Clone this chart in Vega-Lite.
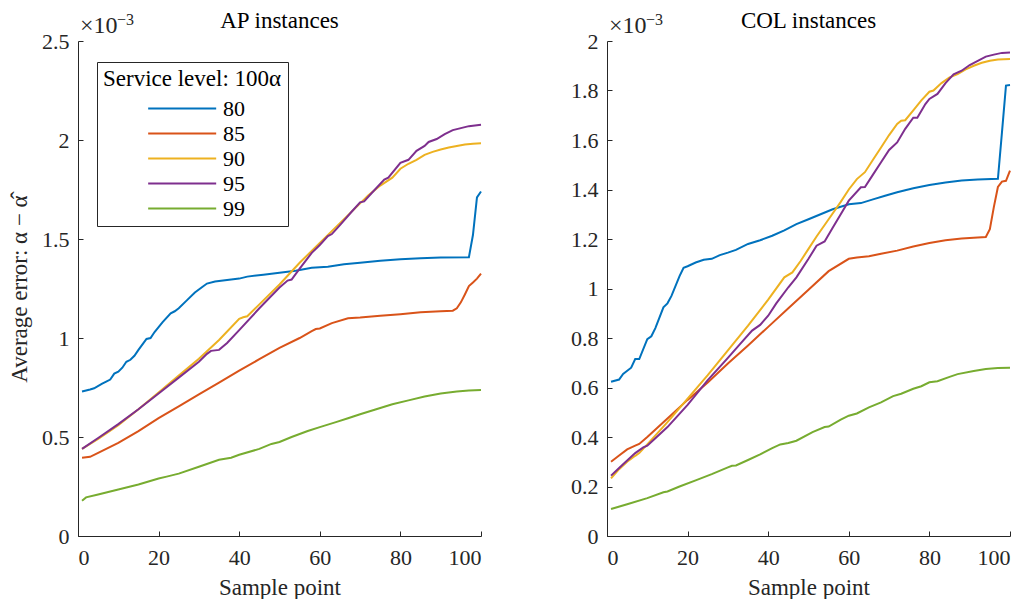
{
  "$schema": "https://vega.github.io/schema/vega-lite/v6.json",
  "padding": {"left": 8, "top": 10, "right": 0, "bottom": 0},
  "background": "white",
  "config": {
    "font": "Liberation Serif",
    "view": {"stroke": null},
    "axis": {
      "domainColor": "#262626", "tickColor": "#262626", "labelColor": "#262626", "titleColor": "#262626",
      "labelFont": "Liberation Serif", "titleFont": "Liberation Serif",
      "labelFontSize": 22, "titleFontSize": 23, "titleFontWeight": "normal",
      "grid": false, "tickSize": -5, "domainWidth": 1, "tickWidth": 1
    },
    "title": {"font": "Liberation Serif", "fontSize": 23, "fontWeight": "normal", "color": "#000000", "frame": "group", "offset": -21},
    "legend": {
      "titleFont": "Liberation Serif", "labelFont": "Liberation Serif",
      "titleFontSize": 23, "labelFontSize": 22, "titleFontWeight": "normal",
      "titleColor": "#000000", "labelColor": "#000000"
    }
  },
  "datasets": {
    "ap": [
      {"s":"80","x":1,"y":0.73},{"s":"80","x":3,"y":0.74},{"s":"80","x":4,"y":0.746},{"s":"80","x":6,"y":0.77},{"s":"80","x":7,"y":0.78},{"s":"80","x":8,"y":0.79},{"s":"80","x":9,"y":0.82},{"s":"80","x":10,"y":0.83},{"s":"80","x":11,"y":0.85},{"s":"80","x":12,"y":0.88},{"s":"80","x":13,"y":0.89},{"s":"80","x":14,"y":0.91},{"s":"80","x":15,"y":0.94},{"s":"80","x":17,"y":0.995},{"s":"80","x":18,"y":1.0},{"s":"80","x":19,"y":1.03},{"s":"80","x":21,"y":1.08},{"s":"80","x":23,"y":1.125},{"s":"80","x":24,"y":1.135},{"s":"80","x":25,"y":1.15},{"s":"80","x":27,"y":1.19},{"s":"80","x":29,"y":1.23},{"s":"80","x":31,"y":1.26},{"s":"80","x":32,"y":1.275},{"s":"80","x":34,"y":1.285},{"s":"80","x":36,"y":1.29},{"s":"80","x":40,"y":1.3},{"s":"80","x":42,"y":1.31},{"s":"80","x":46,"y":1.32},{"s":"80","x":50,"y":1.33},{"s":"80","x":54,"y":1.34},{"s":"80","x":58,"y":1.355},{"s":"80","x":62,"y":1.36},{"s":"80","x":66,"y":1.372},{"s":"80","x":70,"y":1.38},{"s":"80","x":75,"y":1.39},{"s":"80","x":80,"y":1.398},{"s":"80","x":85,"y":1.403},{"s":"80","x":90,"y":1.406},{"s":"80","x":97,"y":1.408},{"s":"80","x":98,"y":1.52},{"s":"80","x":99,"y":1.71},{"s":"80","x":100,"y":1.74},
      {"s":"85","x":1,"y":0.395},{"s":"85","x":3,"y":0.4},{"s":"85","x":5,"y":0.42},{"s":"85","x":8,"y":0.45},{"s":"85","x":10,"y":0.47},{"s":"85","x":15,"y":0.53},{"s":"85","x":20,"y":0.595},{"s":"85","x":25,"y":0.655},{"s":"85","x":30,"y":0.715},{"s":"85","x":35,"y":0.775},{"s":"85","x":40,"y":0.835},{"s":"85","x":45,"y":0.893},{"s":"85","x":50,"y":0.95},{"s":"85","x":55,"y":1.0},{"s":"85","x":58,"y":1.035},{"s":"85","x":59,"y":1.045},{"s":"85","x":60,"y":1.048},{"s":"85","x":63,"y":1.075},{"s":"85","x":67,"y":1.1},{"s":"85","x":70,"y":1.103},{"s":"85","x":75,"y":1.112},{"s":"85","x":80,"y":1.12},{"s":"85","x":85,"y":1.13},{"s":"85","x":90,"y":1.135},{"s":"85","x":93,"y":1.138},{"s":"85","x":94,"y":1.15},{"s":"85","x":95,"y":1.18},{"s":"85","x":96,"y":1.22},{"s":"85","x":97,"y":1.262},{"s":"85","x":98,"y":1.28},{"s":"85","x":99,"y":1.3},{"s":"85","x":100,"y":1.325},
      {"s":"90","x":1,"y":0.44},{"s":"90","x":5,"y":0.49},{"s":"90","x":10,"y":0.56},{"s":"90","x":15,"y":0.64},{"s":"90","x":20,"y":0.725},{"s":"90","x":25,"y":0.81},{"s":"90","x":30,"y":0.895},{"s":"90","x":35,"y":0.99},{"s":"90","x":40,"y":1.097},{"s":"90","x":41,"y":1.105},{"s":"90","x":42,"y":1.11},{"s":"90","x":45,"y":1.17},{"s":"90","x":50,"y":1.27},{"s":"90","x":55,"y":1.38},{"s":"90","x":60,"y":1.48},{"s":"90","x":65,"y":1.58},{"s":"90","x":70,"y":1.68},{"s":"90","x":72,"y":1.72},{"s":"90","x":75,"y":1.77},{"s":"90","x":78,"y":1.81},{"s":"90","x":80,"y":1.855},{"s":"90","x":82,"y":1.88},{"s":"90","x":84,"y":1.9},{"s":"90","x":86,"y":1.925},{"s":"90","x":88,"y":1.94},{"s":"90","x":90,"y":1.952},{"s":"90","x":92,"y":1.962},{"s":"90","x":94,"y":1.97},{"s":"90","x":96,"y":1.977},{"s":"90","x":98,"y":1.981},{"s":"90","x":100,"y":1.983},
      {"s":"95","x":1,"y":0.44},{"s":"95","x":5,"y":0.495},{"s":"95","x":10,"y":0.565},{"s":"95","x":15,"y":0.64},{"s":"95","x":20,"y":0.72},{"s":"95","x":25,"y":0.8},{"s":"95","x":30,"y":0.88},{"s":"95","x":32,"y":0.92},{"s":"95","x":33,"y":0.935},{"s":"95","x":35,"y":0.94},{"s":"95","x":37,"y":0.975},{"s":"95","x":40,"y":1.04},{"s":"95","x":45,"y":1.15},{"s":"95","x":50,"y":1.255},{"s":"95","x":52,"y":1.29},{"s":"95","x":53,"y":1.295},{"s":"95","x":55,"y":1.35},{"s":"95","x":58,"y":1.43},{"s":"95","x":60,"y":1.47},{"s":"95","x":62,"y":1.515},{"s":"95","x":63,"y":1.525},{"s":"95","x":65,"y":1.57},{"s":"95","x":68,"y":1.64},{"s":"95","x":70,"y":1.685},{"s":"95","x":71,"y":1.69},{"s":"95","x":73,"y":1.735},{"s":"95","x":76,"y":1.8},{"s":"95","x":77,"y":1.81},{"s":"95","x":80,"y":1.885},{"s":"95","x":82,"y":1.9},{"s":"95","x":84,"y":1.945},{"s":"95","x":86,"y":1.97},{"s":"95","x":87,"y":1.99},{"s":"95","x":89,"y":2.005},{"s":"95","x":91,"y":2.03},{"s":"95","x":93,"y":2.05},{"s":"95","x":95,"y":2.06},{"s":"95","x":97,"y":2.07},{"s":"95","x":100,"y":2.077},
      {"s":"99","x":1,"y":0.178},{"s":"99","x":2,"y":0.195},{"s":"99","x":5,"y":0.21},{"s":"99","x":10,"y":0.235},{"s":"99","x":15,"y":0.26},{"s":"99","x":20,"y":0.29},{"s":"99","x":22,"y":0.3},{"s":"99","x":25,"y":0.315},{"s":"99","x":30,"y":0.35},{"s":"99","x":35,"y":0.385},{"s":"99","x":38,"y":0.395},{"s":"99","x":40,"y":0.41},{"s":"99","x":45,"y":0.44},{"s":"99","x":48,"y":0.465},{"s":"99","x":50,"y":0.475},{"s":"99","x":53,"y":0.5},{"s":"99","x":57,"y":0.53},{"s":"99","x":60,"y":0.55},{"s":"99","x":64,"y":0.575},{"s":"99","x":67,"y":0.595},{"s":"99","x":70,"y":0.615},{"s":"99","x":74,"y":0.64},{"s":"99","x":78,"y":0.665},{"s":"99","x":82,"y":0.685},{"s":"99","x":86,"y":0.705},{"s":"99","x":90,"y":0.72},{"s":"99","x":94,"y":0.73},{"s":"99","x":97,"y":0.735},{"s":"99","x":100,"y":0.737}
    ],
    "col": [
      {"s":"80","x":1,"y":0.623},{"s":"80","x":3,"y":0.632},{"s":"80","x":4,"y":0.655},{"s":"80","x":6,"y":0.68},{"s":"80","x":7,"y":0.715},{"s":"80","x":8,"y":0.715},{"s":"80","x":10,"y":0.795},{"s":"80","x":11,"y":0.807},{"s":"80","x":12,"y":0.84},{"s":"80","x":14,"y":0.924},{"s":"80","x":15,"y":0.94},{"s":"80","x":16,"y":0.97},{"s":"80","x":18,"y":1.05},{"s":"80","x":19,"y":1.084},{"s":"80","x":20,"y":1.09},{"s":"80","x":22,"y":1.105},{"s":"80","x":24,"y":1.116},{"s":"80","x":26,"y":1.12},{"s":"80","x":28,"y":1.135},{"s":"80","x":30,"y":1.145},{"s":"80","x":32,"y":1.156},{"s":"80","x":35,"y":1.18},{"s":"80","x":38,"y":1.195},{"s":"80","x":41,"y":1.213},{"s":"80","x":44,"y":1.235},{"s":"80","x":47,"y":1.26},{"s":"80","x":50,"y":1.28},{"s":"80","x":53,"y":1.3},{"s":"80","x":56,"y":1.32},{"s":"80","x":60,"y":1.34},{"s":"80","x":63,"y":1.345},{"s":"80","x":66,"y":1.36},{"s":"80","x":69,"y":1.375},{"s":"80","x":72,"y":1.389},{"s":"80","x":76,"y":1.405},{"s":"80","x":80,"y":1.418},{"s":"80","x":84,"y":1.428},{"s":"80","x":88,"y":1.436},{"s":"80","x":92,"y":1.44},{"s":"80","x":97,"y":1.443},{"s":"80","x":98,"y":1.63},{"s":"80","x":99,"y":1.82},{"s":"80","x":100,"y":1.822},
      {"s":"85","x":1,"y":0.3},{"s":"85","x":3,"y":0.325},{"s":"85","x":5,"y":0.35},{"s":"85","x":7,"y":0.365},{"s":"85","x":8,"y":0.372},{"s":"85","x":10,"y":0.4},{"s":"85","x":15,"y":0.475},{"s":"85","x":20,"y":0.55},{"s":"85","x":25,"y":0.62},{"s":"85","x":30,"y":0.697},{"s":"85","x":35,"y":0.77},{"s":"85","x":40,"y":0.845},{"s":"85","x":45,"y":0.92},{"s":"85","x":50,"y":0.995},{"s":"85","x":55,"y":1.07},{"s":"85","x":60,"y":1.12},{"s":"85","x":62,"y":1.125},{"s":"85","x":65,"y":1.13},{"s":"85","x":68,"y":1.14},{"s":"85","x":72,"y":1.153},{"s":"85","x":76,"y":1.17},{"s":"85","x":80,"y":1.184},{"s":"85","x":84,"y":1.195},{"s":"85","x":88,"y":1.202},{"s":"85","x":92,"y":1.206},{"s":"85","x":94,"y":1.208},{"s":"85","x":95,"y":1.24},{"s":"85","x":96,"y":1.33},{"s":"85","x":97,"y":1.41},{"s":"85","x":98,"y":1.432},{"s":"85","x":99,"y":1.435},{"s":"85","x":100,"y":1.476},
      {"s":"90","x":1,"y":0.233},{"s":"90","x":3,"y":0.27},{"s":"90","x":5,"y":0.3},{"s":"90","x":7,"y":0.324},{"s":"90","x":8,"y":0.335},{"s":"90","x":10,"y":0.37},{"s":"90","x":15,"y":0.46},{"s":"90","x":20,"y":0.555},{"s":"90","x":25,"y":0.65},{"s":"90","x":30,"y":0.75},{"s":"90","x":35,"y":0.85},{"s":"90","x":40,"y":0.955},{"s":"90","x":44,"y":1.045},{"s":"90","x":46,"y":1.065},{"s":"90","x":48,"y":1.11},{"s":"90","x":50,"y":1.16},{"s":"90","x":52,"y":1.21},{"s":"90","x":55,"y":1.28},{"s":"90","x":58,"y":1.35},{"s":"90","x":60,"y":1.4},{"s":"90","x":62,"y":1.442},{"s":"90","x":64,"y":1.47},{"s":"90","x":66,"y":1.52},{"s":"90","x":68,"y":1.57},{"s":"90","x":70,"y":1.62},{"s":"90","x":72,"y":1.665},{"s":"90","x":73,"y":1.678},{"s":"90","x":74,"y":1.68},{"s":"90","x":76,"y":1.72},{"s":"90","x":78,"y":1.76},{"s":"90","x":80,"y":1.795},{"s":"90","x":81,"y":1.8},{"s":"90","x":83,"y":1.83},{"s":"90","x":85,"y":1.853},{"s":"90","x":87,"y":1.866},{"s":"90","x":89,"y":1.885},{"s":"90","x":91,"y":1.9},{"s":"90","x":93,"y":1.912},{"s":"90","x":95,"y":1.92},{"s":"90","x":97,"y":1.925},{"s":"90","x":100,"y":1.927},
      {"s":"95","x":1,"y":0.244},{"s":"95","x":3,"y":0.275},{"s":"95","x":5,"y":0.305},{"s":"95","x":7,"y":0.335},{"s":"95","x":9,"y":0.358},{"s":"95","x":10,"y":0.365},{"s":"95","x":12,"y":0.395},{"s":"95","x":15,"y":0.44},{"s":"95","x":20,"y":0.53},{"s":"95","x":25,"y":0.63},{"s":"95","x":30,"y":0.72},{"s":"95","x":33,"y":0.775},{"s":"95","x":36,"y":0.83},{"s":"95","x":38,"y":0.853},{"s":"95","x":40,"y":0.89},{"s":"95","x":42,"y":0.94},{"s":"95","x":45,"y":1.005},{"s":"95","x":47,"y":1.045},{"s":"95","x":50,"y":1.12},{"s":"95","x":52,"y":1.173},{"s":"95","x":54,"y":1.19},{"s":"95","x":56,"y":1.245},{"s":"95","x":58,"y":1.3},{"s":"95","x":60,"y":1.355},{"s":"95","x":63,"y":1.409},{"s":"95","x":64,"y":1.41},{"s":"95","x":66,"y":1.46},{"s":"95","x":68,"y":1.51},{"s":"95","x":70,"y":1.56},{"s":"95","x":72,"y":1.59},{"s":"95","x":74,"y":1.645},{"s":"95","x":76,"y":1.69},{"s":"95","x":77,"y":1.69},{"s":"95","x":79,"y":1.745},{"s":"95","x":80,"y":1.766},{"s":"95","x":82,"y":1.786},{"s":"95","x":84,"y":1.83},{"s":"95","x":86,"y":1.865},{"s":"95","x":88,"y":1.88},{"s":"95","x":90,"y":1.903},{"s":"95","x":92,"y":1.92},{"s":"95","x":94,"y":1.937},{"s":"95","x":96,"y":1.945},{"s":"95","x":98,"y":1.952},{"s":"95","x":100,"y":1.954},
      {"s":"99","x":1,"y":0.109},{"s":"99","x":5,"y":0.128},{"s":"99","x":10,"y":0.153},{"s":"99","x":14,"y":0.177},{"s":"99","x":15,"y":0.18},{"s":"99","x":18,"y":0.2},{"s":"99","x":22,"y":0.225},{"s":"99","x":26,"y":0.25},{"s":"99","x":30,"y":0.277},{"s":"99","x":31,"y":0.284},{"s":"99","x":32,"y":0.285},{"s":"99","x":35,"y":0.307},{"s":"99","x":38,"y":0.33},{"s":"99","x":41,"y":0.355},{"s":"99","x":43,"y":0.37},{"s":"99","x":45,"y":0.376},{"s":"99","x":47,"y":0.385},{"s":"99","x":51,"y":0.42},{"s":"99","x":54,"y":0.44},{"s":"99","x":55,"y":0.442},{"s":"99","x":58,"y":0.47},{"s":"99","x":60,"y":0.486},{"s":"99","x":62,"y":0.495},{"s":"99","x":65,"y":0.52},{"s":"99","x":68,"y":0.54},{"s":"99","x":71,"y":0.565},{"s":"99","x":73,"y":0.575},{"s":"99","x":76,"y":0.595},{"s":"99","x":78,"y":0.605},{"s":"99","x":80,"y":0.621},{"s":"99","x":82,"y":0.625},{"s":"99","x":85,"y":0.643},{"s":"99","x":87,"y":0.654},{"s":"99","x":91,"y":0.667},{"s":"99","x":94,"y":0.675},{"s":"99","x":97,"y":0.679},{"s":"99","x":100,"y":0.68}
    ]
  },
  "spacing": 85,
  "resolve": {"scale": {"color": "independent"}, "legend": {"color": "independent"}},
  "hconcat": [
    {
      "width": 403, "height": 495,
      "title": {"text": "AP instances"},
      "layer": [
        {
          "data": {"name": "ap"},
          "mark": {"type": "line", "strokeWidth": 2},
          "encoding": {
            "x": {"field": "x", "type": "quantitative", "scale": {"domain": [0, 100], "nice": false},
                  "axis": {"values": [0, 20, 40, 60, 80, 100], "title": "Sample point", "labelPadding": 16, "titlePadding": 8}},
            "y": {"field": "y", "type": "quantitative", "scale": {"domain": [0, 2.5], "nice": false},
                  "axis": {"values": [0, 0.5, 1, 1.5, 2, 2.5], "format": "~g", "title": "Average error: α − α̂", "labelPadding": 14, "titlePadding": 10}},
            "color": {"field": "s", "type": "nominal",
                      "scale": {"domain": ["80", "85", "90", "95", "99"], "range": ["#0072BD", "#D95319", "#EDB120", "#7E2F8E", "#77AC30"]},
                      "legend": {"title": "Service level: 100α", "orient": "none", "legendX": 19, "legendY": 21,
                                 "symbolType": "M -1 0 H 5", "symbolStrokeWidth": 2, "symbolSize": 514, "symbolOffset": 44,
                                 "labelOffset": 51, "strokeColor": "#262626", "fillColor": "white", "padding": 6,
                                 "rowPadding": 1, "titlePadding": 5}}
          }
        },
        {
          "data": {"values": [{"t": "×10"}]},
          "mark": {"type": "text", "align": "left", "baseline": "alphabetic", "dx": 2, "dy": -8, "fontSize": 24, "color": "#262626"},
          "encoding": {"x": {"datum": 0, "type": "quantitative"}, "y": {"datum": 2.5, "type": "quantitative"}, "text": {"field": "t"}}
        },
        {
          "data": {"values": [{"t": "−3"}]},
          "mark": {"type": "text", "align": "left", "baseline": "alphabetic", "dx": 39, "dy": -16, "fontSize": 16, "color": "#262626"},
          "encoding": {"x": {"datum": 0, "type": "quantitative"}, "y": {"datum": 2.5, "type": "quantitative"}, "text": {"field": "t"}}
        }
      ]
    },
    {
      "width": 403, "height": 495,
      "title": {"text": "COL instances"},
      "layer": [
        {
          "data": {"name": "col"},
          "mark": {"type": "line", "strokeWidth": 2},
          "encoding": {
            "x": {"field": "x", "type": "quantitative", "scale": {"domain": [0, 100], "nice": false},
                  "axis": {"values": [0, 20, 40, 60, 80, 100], "title": "Sample point", "labelPadding": 16, "titlePadding": 8}},
            "y": {"field": "y", "type": "quantitative", "scale": {"domain": [0, 2], "nice": false},
                  "axis": {"values": [0, 0.2, 0.4, 0.6, 0.8, 1, 1.2, 1.4, 1.6, 1.8, 2], "format": "~g", "title": null, "labelPadding": 14}},
            "color": {"field": "s", "type": "nominal",
                      "scale": {"domain": ["80", "85", "90", "95", "99"], "range": ["#0072BD", "#D95319", "#EDB120", "#7E2F8E", "#77AC30"]},
                      "legend": null}
          }
        },
        {
          "data": {"values": [{"t": "×10"}]},
          "mark": {"type": "text", "align": "left", "baseline": "alphabetic", "dx": 2, "dy": -8, "fontSize": 24, "color": "#262626"},
          "encoding": {"x": {"datum": 0, "type": "quantitative"}, "y": {"datum": 2, "type": "quantitative"}, "text": {"field": "t"}}
        },
        {
          "data": {"values": [{"t": "−3"}]},
          "mark": {"type": "text", "align": "left", "baseline": "alphabetic", "dx": 39, "dy": -16, "fontSize": 16, "color": "#262626"},
          "encoding": {"x": {"datum": 0, "type": "quantitative"}, "y": {"datum": 2, "type": "quantitative"}, "text": {"field": "t"}}
        }
      ]
    }
  ]
}
